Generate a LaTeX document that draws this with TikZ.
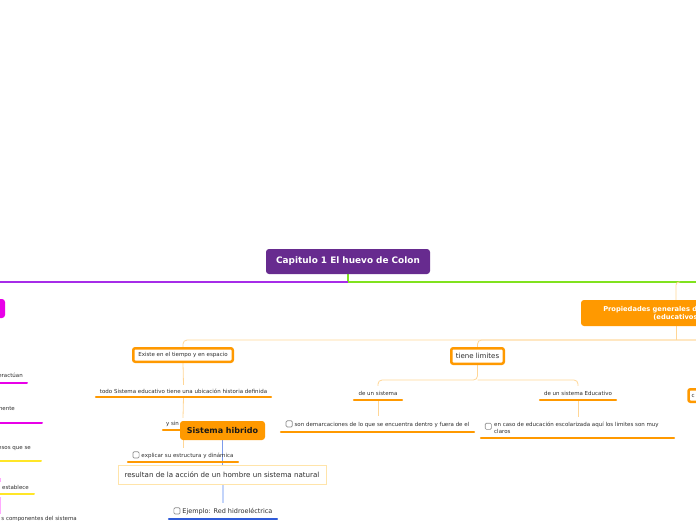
\documentclass[tikz,border=0pt]{standalone}
\usepackage{fontspec}
\setmainfont{DejaVu Sans}
\usetikzlibrary{calc}
\pgfdeclarelayer{background}
\pgfsetlayers{background,main}
\definecolor{cpurple}{RGB}{103,43,143}
\definecolor{lpurple}{RGB}{166,44,232}
\definecolor{lgreen}{RGB}{128,226,30}
\definecolor{corange}{RGB}{255,153,0}
\definecolor{lorange}{RGB}{255,214,150}
\definecolor{cmag}{RGB}{232,0,232}
\definecolor{cyel}{RGB}{255,230,40}
\definecolor{cpink}{RGB}{255,170,255}
\definecolor{cblue}{RGB}{47,91,216}
\definecolor{mblue}{RGB}{125,155,235}
\definecolor{pblue}{RGB}{195,212,250}
\definecolor{boxborder}{RGB}{255,228,170}
\definecolor{txt}{RGB}{45,45,45}
\definecolor{ckgray}{RGB}{140,140,140}
\newcommand\ck{\tikz[baseline=0.6pt,x=1pt,y=1pt]\draw[ckgray,line width=0.7pt,rounded corners=1.2pt] (0,0) rectangle (6.2,6.2);}
\newcommand\fsA{\fontsize{5.5}{7}\selectfont}
\newcommand\fsT{\fontsize{8.9}{10}\selectfont}
\newcommand\fsP{\fontsize{6.7}{8}\selectfont}
\newcommand\fsS{\fontsize{8}{9}\selectfont}
\newcommand\fsR{\fontsize{7.1}{8}\selectfont}
\newcommand\fsE{\fontsize{6.5}{8}\selectfont}
\newcommand\fsL{\fontsize{7}{8}\selectfont}
\begin{document}
\begin{tikzpicture}[x=1pt,y=-1pt,
  central/.style={fill=cpurple, rounded corners=3pt, text=white, font=\fsT\bfseries, minimum width=164pt, minimum height=25pt, inner sep=0pt},
  mainor/.style={fill=corange, rounded corners=3pt, inner sep=0pt},
  obox/.style={draw=corange, line width=2.5pt, fill=white, rounded corners=2pt, inner sep=0pt, font=\fsA, text=txt},
  topic/.style={inner sep=0pt, font=\fsA, text=txt},
  ul/.style={line width=2pt, line cap=round},
  conn/.style={draw=lorange, line width=0.8pt}]
\useasboundingbox (0,0) rectangle (696,520);
\clip (0,0) rectangle (696,520);

% central
\node[central] (c) at (348,261.5) {Capitulo 1 El huevo de Colon};
\coordinate (jn) at (348,282);
\coordinate (gR) at (700,282);
\coordinate (pL) at (-10,282);
\coordinate (pj) at (676,282);
\coordinate (hR) at (700,340);

% right branch
\node[mainor, text=white, font=\fsP\bfseries, minimum width=192pt, minimum height=26pt, align=center] (prop) at (677,313) {Propiedades generales de los sistemas\\(educativos)};
\node[obox, minimum width=99.5pt, minimum height=13.5pt] (ex) at (183,355) {Existe en el tiempo y en espacio};
\node[obox, font=\fsL, minimum width=52.5pt, minimum height=15.5pt] (tl) at (477.5,356) {tiene limites};
\node[obox, anchor=west, minimum height=12.5pt, text width=30pt, inner xsep=3pt, align=left] (cn) at (687.25,395.5) {c};

\node[topic, minimum width=177pt, minimum height=12pt] (todo) at (183.5,391) {todo Sistema educativo tiene una ubicación historia definida};
\node[topic, minimum width=42pt, minimum height=12pt, text width=34pt, inner xsep=4pt, align=left] (ysin) at (183,424) {y sin};
\node[mainor, text=black!90, font=\fsS\bfseries, minimum width=85pt, minimum height=19pt] (sh) at (222.5,430.5) {Sistema hibrido};
\node[topic, minimum width=112pt, minimum height=14pt] (expl) at (183,455) {\ck\hspace{2pt}explicar su estructura y dinámica};
\node[draw=boxborder, line width=0.8pt, fill=white, minimum width=208pt, minimum height=19pt, font=\fsR, text=txt, inner sep=0pt] (res) at (222,474.5) {resultan de la acción de un hombre un sistema natural};
\node[topic, font=\fsE, minimum width=110pt, minimum height=16pt] (ej) at (223,511) {\ck\hspace{2pt}Ejemplo: Red hidroeléctrica};

\coordinate (tj) at (477.5,380);
\node[topic, minimum width=50pt, minimum height=14pt] (ds) at (378,393) {de un sistema};
\node[topic, minimum width=78pt, minimum height=14pt] (dse) at (578,393) {de un sistema Educativo};
\node[topic, minimum width=195pt, minimum height=16pt] (son) at (377.5,424) {\ck\hspace{2pt}son demarcaciones de lo que se encuentra dentro y fuera de el};
\node[topic, minimum width=195pt, minimum height=21pt] (enc) at (577.5,427.5) {\ck\hspace{2.5pt}\parbox[c]{176pt}{\raggedright en caso de educación escolarizada aquí los limites son muy\\claros}};

% left branch
\node[fill=cmag, rounded corners=3pt, minimum width=60pt, minimum height=19pt] (mg) at (-25,308.5) {};
\node[topic, anchor=east] (l1) at (23,375) {eractúan};
\node[topic, anchor=east] (l2) at (15,409) {mente};
\node[topic, anchor=east] (l3) at (31,449) {esos que se};
\node[topic, anchor=east] (l4) at (29,487) {a establece};
\node[topic, anchor=east] (l5) at (77,519) {s componentes del sistema};

\begin{pgfonlayer}{background}
\draw[lgreen, line width=1.3pt] (c.south) -- (jn) -- (gR);
\draw[lpurple, line width=1.3pt] (jn) -- (pL);
\draw[conn, rounded corners=3pt] (pj |- prop.north) -- (pj) -- ++(4,0);
\draw[conn] (prop.south -| pj) -- (pj |- hR);
\draw[conn, rounded corners=4pt] (ex.north) |- (hR);
\draw[conn, rounded corners=4pt] (tl.north) |- (hR);
\draw[conn] (ex.south) -- (todo.north);
\draw[conn] (todo.south) -- (ysin.north);
\draw[conn] (ysin.south) -- (expl.north);
\draw[mblue, line width=1.3pt] (sh.south) -- (sh.south |- res.north);
\draw[pblue, line width=1.3pt] (res.south -| ej.north) -- (ej.north);
\draw[conn, rounded corners=4pt] (tl.south) -- (tj) -| (ds.north);
\draw[conn, rounded corners=4pt] (tj) -| (dse.north);
\draw[conn] (ds.south) -- (ds.south |- son.north);
\draw[conn] (dse.south) -- (dse.south |- enc.north);
% underlines
\draw[ul, corange] ([xshift=1pt]todo.south west) -- ([xshift=-1pt]todo.south east);
\draw[ul, corange] ([xshift=1pt]ysin.south west) -- ([xshift=-1pt]ysin.south east);
\draw[ul, corange] ([xshift=1pt]expl.south west) -- ([xshift=-1pt]expl.south east);
\draw[ul, cblue] ([xshift=1pt]ej.south west) -- ([xshift=-1pt]ej.south east);
\draw[ul, corange] ([xshift=1pt]ds.south west) -- ([xshift=-1pt]ds.south east);
\draw[ul, corange] ([xshift=1pt]dse.south west) -- ([xshift=-1pt]dse.south east);
\draw[ul, corange] ([xshift=1pt]son.south west) -- ([xshift=-1pt]son.south east);
\draw[ul, corange] ([xshift=1pt]enc.south west) -- ([xshift=-1pt]enc.south east);
\draw[ul, cmag] (-5,383) -- (27,383);
\draw[ul, cmag] (-5,423) -- (42,423);
\draw[ul, cyel] (-5,461) -- (41,461);
\draw[ul, cyel] (-5,494) -- (34,494);
\draw[cpink, line width=1.5pt] (0.5,478) -- (0.5,482);
\draw[cpink, line width=1.5pt] (0.5,497) -- (0.5,514);
\end{pgfonlayer}
\end{tikzpicture}
\end{document}
